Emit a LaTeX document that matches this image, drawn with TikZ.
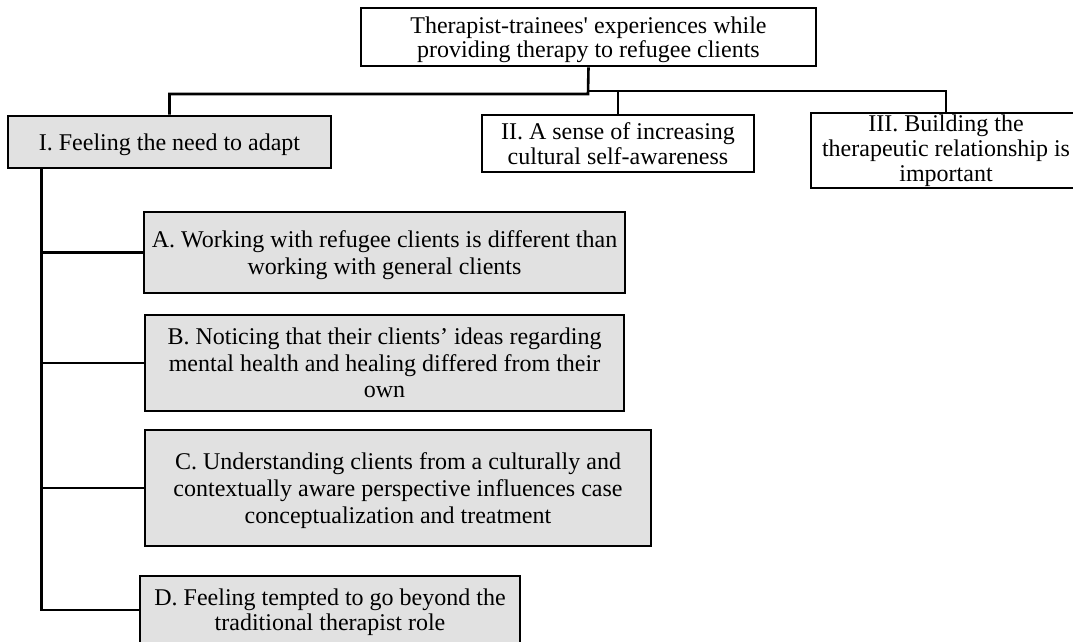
\documentclass[tikz,border=0pt]{standalone}
\usepackage{fontspec}
\setmainfont{Liberation Serif}
\usetikzlibrary{positioning}
\definecolor{boxgray}{RGB}{225,225,225}
\tikzset{
  theme/.style={draw, line width=2.6pt, align=center, inner sep=0pt, text depth=0pt, font=\fontsize{24}{25}\selectfont},
  subtheme/.style={theme, fill=boxgray, font=\fontsize{24}{27}\selectfont},
  link/.style={line width=2.6pt}
}
\begin{document}
\begin{tikzpicture}[x=1pt,y=-1pt]
\useasboundingbox (0,0) rectangle (1073,642);

%Main theme
\node [theme, minimum width=455pt, minimum height=58pt, font=\fontsize{24}{24}\selectfont] (top) at (588.5,37) {Therapist-trainees\textquotesingle\ experiences while\\providing therapy to refugee clients};

%Themes I - III
\node [theme, fill=boxgray, minimum width=323pt, minimum height=52pt] (adapt) at (169.5,142) {I. Feeling the need to adapt};
\node [theme, minimum width=272pt, minimum height=57pt] (aware) at (618,143.5) {II. A sense of increasing\\cultural self-awareness};
\node [theme, minimum width=270pt, minimum height=75pt, text depth=4pt] (relation) at (946,150.5) {III. Building the\\therapeutic relationship is\\important};

%Subthemes A - D
\node [subtheme, minimum width=481pt, minimum height=81pt] (diff) at (384.5,252.5) {A. Working with refugee clients is different than\\working with general clients};
\node [subtheme, minimum width=479pt, minimum height=96pt, font=\fontsize{24}{26.5}\selectfont] (ideas) at (384.5,363) {B. Noticing that their clients’ ideas regarding\\mental health and healing differed from their\\own};
\node [subtheme, minimum width=506pt, minimum height=116pt] (context) at (398,488) {C. Understanding clients from a culturally and\\contextually aware perspective influences case\\conceptualization and treatment};
\node [subtheme, minimum width=380pt, minimum height=68pt, font=\fontsize{24}{25}\selectfont] (beyond) at (330,610) {D. Feeling tempted to go beyond the\\traditional therapist role};

%Links: main theme to themes
\coordinate (hubL) at (588,94);
\coordinate (hubR) at (588,91);
\draw [link] (top.south) -- (hubL) -| (adapt.north);
\draw [link] (hubR) -| (aware.north);
\draw [link] (hubR) -| (relation.north);

%Links: theme I to subthemes
\coordinate (spine) at ([xshift=35pt]adapt.south west);
\draw [link] (spine) |- (beyond.west);
\foreach \n in {diff, ideas, context}
  \draw [link] (\n.west) -- (\n.west -| spine);

\end{tikzpicture}
\end{document}
